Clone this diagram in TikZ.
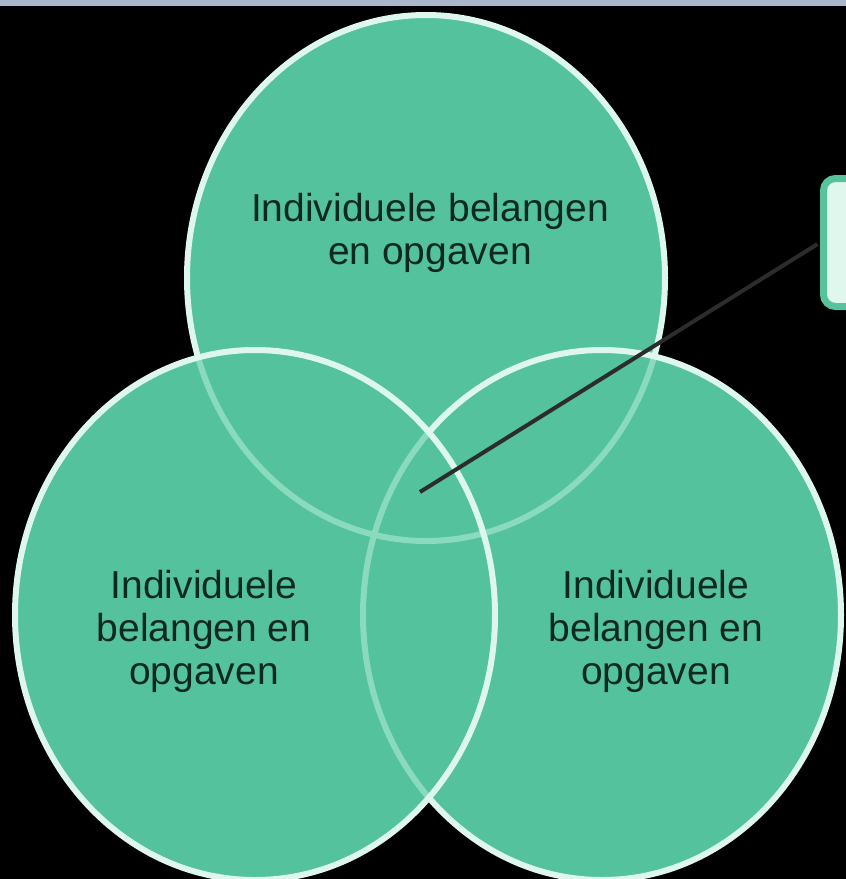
\documentclass[tikz,border=0pt]{standalone}
\usepackage{fontspec}
\setmainfont{Liberation Sans}
\definecolor{vfill}{HTML}{54C29C}
\definecolor{vline}{HTML}{DDF7EE}
\definecolor{vfade}{HTML}{8ADABD}
\definecolor{vtext}{HTML}{0E2A20}
\definecolor{topbar}{HTML}{AAB6CC}
\definecolor{boxfill}{HTML}{E0F7EE}
\definecolor{boxedge}{HTML}{56C39D}
\definecolor{pointer}{HTML}{2C2C2C}
\begin{document}
\begin{tikzpicture}[x=1pt,y=-1pt,
  vfillstyle/.style={fill=vfill},
  vedge/.style={draw=vline,line width=6pt},
  vfaded/.style={draw=vfade,line width=6pt},
  vlabel/.style={text=vtext,font=\fontsize{39}{43}\selectfont,align=center,inner sep=0pt},
  notebox/.style={draw=boxedge,fill=boxfill,line width=7pt,rounded corners=12pt,minimum width=100pt,minimum height=128pt,inner sep=0pt},
  pointerline/.style={draw=pointer,line width=4pt}]
\useasboundingbox (0,0) rectangle (846,879);
\clip (0,0) rectangle (846,879);
\fill[black] (0,0) rectangle (846,879);
\fill[topbar] (0,0) rectangle (846,6);
% top circle
\fill[vfillstyle] (426,278) ellipse [x radius=239pt, y radius=263pt];
\draw[vedge] (426,278) ellipse [x radius=239pt, y radius=263pt];
% right circle
\fill[vfillstyle] (602,615) ellipse [x radius=239pt, y radius=265pt];
\begin{scope}
  \clip (602,615) ellipse [x radius=239pt, y radius=265pt];
  \draw[vfaded] (426,278) ellipse [x radius=239pt, y radius=263pt];
\end{scope}
\draw[vedge] (602,615) ellipse [x radius=239pt, y radius=265pt];
% left circle
\fill[vfillstyle] (255,615) ellipse [x radius=240pt, y radius=265pt];
\begin{scope}
  \clip (255,615) ellipse [x radius=240pt, y radius=265pt];
  \draw[vfaded] (426,278) ellipse [x radius=239pt, y radius=263pt];
  \draw[vfaded] (602,615) ellipse [x radius=239pt, y radius=265pt];
\end{scope}
\draw[vedge] (255,615) ellipse [x radius=240pt, y radius=265pt];
% labels
\node[vlabel] (ltop) at (430,233) {Individuele belangen\\en opgaven};
\node[vlabel] (lleft) at (204,631) {Individuele\\belangen en\\opgaven};
\node[vlabel] (lright) at (656,631) {Individuele\\belangen en\\opgaven};
% callout
\coordinate (hub) at (420,492);
\node[notebox] (note) at (873.5,242.5) {};
\draw[pointerline,shorten >=3pt] (hub) -- (note.west);
\end{tikzpicture}
\end{document}
